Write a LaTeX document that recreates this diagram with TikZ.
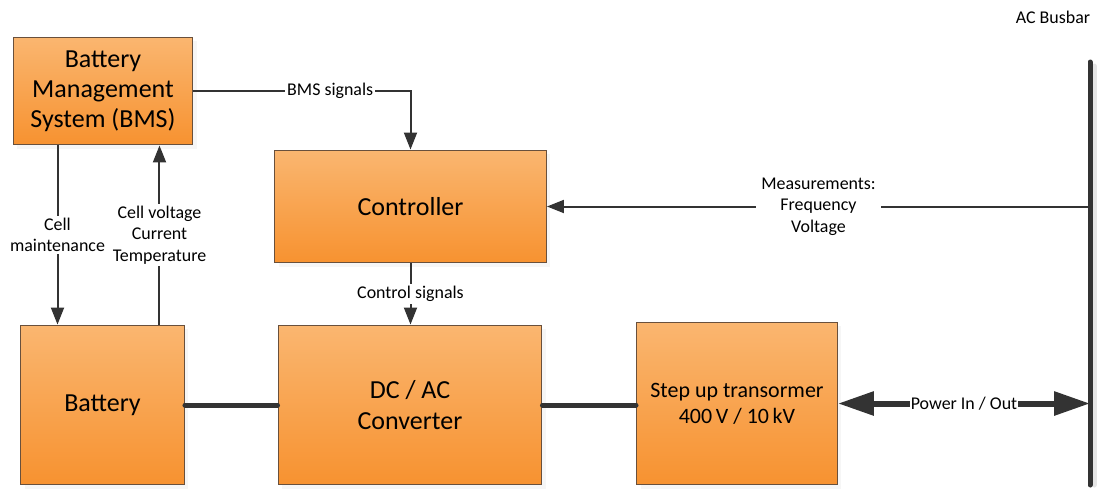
\documentclass[tikz,border=0pt]{standalone}
\usepackage{fontspec}
\setmainfont{Carlito}
\usepackage{tikz}
\usetikzlibrary{arrows.meta, positioning, calc, shadows}
\definecolor{boxtop}{RGB}{250,182,112}
\definecolor{boxbot}{RGB}{247,146,48}
\definecolor{boxline}{RGB}{105,80,60}
\definecolor{wire}{RGB}{51,51,51}

\begin{document}
\begin{tikzpicture}[
			x=0.02cm, y=-0.02cm,
			block/.style={rectangle, draw=boxline, top color=boxtop, bottom color=boxbot,
				line width=0.2mm, align=center, inner sep=0pt,
				font=\fontsize{14.8}{17.2}\selectfont,
				drop shadow={shadow xshift=0.8mm, shadow yshift=-0.8mm, fill=black!7}},
			sig/.style={draw=wire, line width=0.4mm, -{Triangle[length=3.4mm, width=2.6mm]}},
			wireonly/.style={draw=wire, line width=0.4mm},
			lbl/.style={fill=white, inner sep=1pt, align=center, font=\fontsize{10.2}{12.2}\selectfont},
			power/.style={draw=wire, line width=1mm, line cap=round},
			inout/.style={draw=wire, line width=1.2mm,
				{Triangle[length=7.2mm, width=4.6mm]}-{Triangle[length=7.2mm, width=4.6mm]}}
			]
			\useasboundingbox (0,0) rectangle (1098,488);
			
			\node[block, minimum width=3.6cm, minimum height=2.16cm] (bms) at (103,91) {Battery\\Management\\System (BMS)};
			\node[block, minimum width=5.44cm, minimum height=2.26cm] (ctrl) at (410.5,206.5) {Controller};
			\node[block, minimum width=3.28cm, minimum height=3.2cm] (batt) at (102.5,405) {Battery};
			\node[block, minimum width=5.28cm, minimum height=3.2cm] (conv) at (410,405) {DC / AC\\Converter};
			\node[block, minimum width=4.02cm, minimum height=3.26cm, font=\fontsize{12.5}{14.8}\selectfont] (trafo) at (737,403.5) {Step up transormer\\400\,V / 10\,kV};
			
			\coordinate (bustop) at (1090,62);
			\coordinate (busbot) at (1090,485);
			\node[lbl, fill=none] (buslbl) at (1053,17) {AC Busbar};
			
			\draw[sig] (bms.east) -| node[lbl, pos=0.315] {BMS signals} (ctrl.north);
			\draw[sig] ([xshift=0.9cm]bms.south west) -- node[lbl] {Cell\\maintenance} ([xshift=0.9cm]bms.south west |- batt.north);
			\draw[sig] ([xshift=2.79cm]batt.north west) -- node[lbl] {Cell voltage\\Current\\Temperature} ([xshift=2.79cm]batt.north west |- bms.south);
			\draw[sig] (ctrl.south) -- node[lbl] {Control signals} (ctrl.south |- conv.north);
			\draw[sig] (ctrl.east -| bustop) -- node[lbl, inner xsep=3pt] {Measurements:\\Frequency\\Voltage} (ctrl.east);
			
			\draw[power] (batt.east) -- (conv.west);
			\draw[power] (conv.east) -- (conv.east -| trafo.west);
			\draw[inout] (trafo.east) -- node[lbl, inner sep=0.5pt] {Power In / Out} (trafo.east -| bustop);
			
			\draw[line width=1mm, black!10, line cap=round] ([xshift=0.8mm, yshift=-0.8mm]bustop) -- ([xshift=0.8mm]busbot);
			\draw[line width=1mm, wire, line cap=round] (bustop) -- (busbot);
		\end{tikzpicture}
\end{document}
